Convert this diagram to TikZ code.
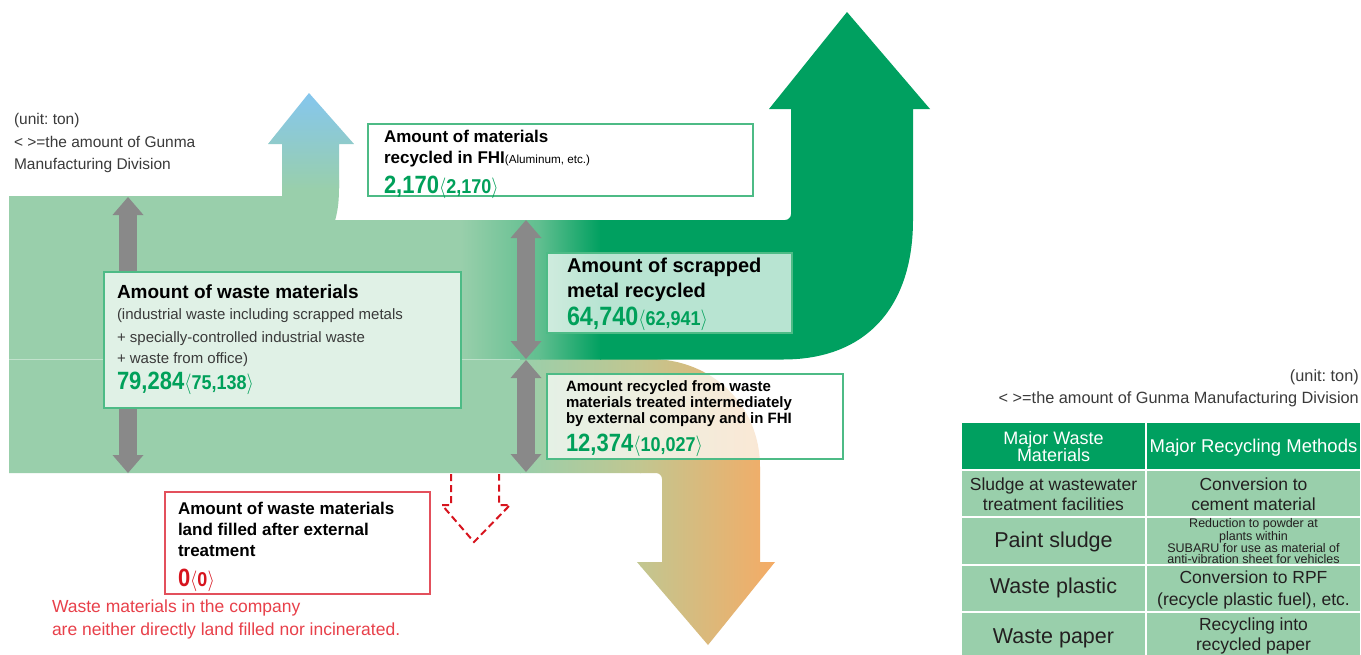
\documentclass[tikz,border=0pt]{standalone}
\usepackage{fontspec}
\usepackage{graphicx}
\setmainfont{Liberation Sans}
\usetikzlibrary{arrows.meta}
\frenchspacing

\definecolor{bandgreen}{HTML}{99CFAB}
\definecolor{midgreen}{HTML}{5FBE8F}
\definecolor{deepgreen}{HTML}{00A060}
\definecolor{skyblue}{HTML}{85C6EE}
\definecolor{tanmid}{HTML}{C2C690}
\definecolor{orangeend}{HTML}{F5AB65}
\definecolor{arrowgray}{HTML}{898989}
\definecolor{boxedge}{HTML}{4DBB86}
\definecolor{numgreen}{HTML}{00A05A}
\definecolor{redline}{HTML}{E3505C}
\definecolor{redtext}{HTML}{E8404A}
\definecolor{rednum}{HTML}{D7141E}
\definecolor{notegray}{HTML}{3A3A3A}
\definecolor{inkblack}{HTML}{231F20}
\definecolor{paleface}{HTML}{E0F1E6}

\newcommand{\fsz}[2]{\fontsize{#1}{#2}\selectfont}
% big figure followed by the Gunma figure in angle brackets
\newcommand{\amountfig}[3][25]{%
  \scalebox{0.88}[1]{\fsz{#1}{#1}\bfseries #2}%
  \scalebox{0.9}[1]{\fsz{20}{20}\bfseries$\langle$#3$\rangle$}}

\begin{document}
\begin{tikzpicture}[x=1pt, y=-1pt,
  txt/.style={anchor=base west, inner sep=0pt, outer sep=0pt},
  infobox/.style={draw=boxedge, line width=1.3pt, fill=white, fill opacity=0.72,
    draw opacity=1, anchor=north west, inner sep=0pt, outer sep=0pt},
  redbox/.style={draw=redline, line width=2.5pt, fill=white, anchor=north west,
    inner sep=0pt, outer sep=0pt},
  grayarrow/.style={draw=arrowgray, line width=18pt,
    >={Triangle[length=18pt,width=31pt,line width=0pt]}, <->},
  dashedarrow/.style={draw=rednum, line width=2pt, dash pattern=on 7pt off 4pt,
    line join=miter},
  cell/.style={draw=white, line width=2pt, anchor=north west, inner sep=0pt,
    outer sep=0pt},
  celltxt/.style={inner sep=0pt, outer sep=0pt, align=center, text=inkblack},
]
\useasboundingbox (0,0) rectangle (1361,654);
\clip (0,0) rectangle (1361,654);
\fill[white] (0,0) rectangle (1361,654);

% lower stream turning down into the orange arrow
\begin{scope}
  \clip (9,359) -- (650,359) .. controls (712,359) and (760,405) .. (760,467)
        -- (760,562) -- (775,562) -- (708,645) -- (637,562) -- (662,562)
        -- (662,479) .. controls (662,475.7) and (659.3,473) .. (656,473)
        -- (9,473) -- cycle;
  \fill[bandgreen] (0,350) rectangle (521,660);
  \shade[left color=bandgreen, right color=tanmid] (520,350) rectangle (641,660);
  \shade[left color=tanmid, right color=orangeend] (640,350) rectangle (776,660);
\end{scope}

% upper stream turning up into the green arrow
\begin{scope}
  \clip (9,196) -- (300,196) -- (300,220) -- (785,220)
        .. controls (788.3,220) and (791,217.3) .. (791,214)
        -- (791,109) -- (769,109) -- (847,12) -- (930,109) -- (913,109)
        -- (913,220) .. controls (913,305) and (868,359.5) .. (783,359.5)
        -- (9,359.5) -- cycle;
  \fill[bandgreen] (0,0) rectangle (461,370);
  \shade[left color=bandgreen, right color=midgreen] (460,0) rectangle (541,370);
  \shade[left color=midgreen, right color=deepgreen] (540,0) rectangle (601,370);
  \fill[deepgreen] (600,0) rectangle (940,370);
\end{scope}

% small blue arrow
\begin{scope}
  \clip (282,221) -- (282,144) -- (268,144) -- (309,93) -- (354,144) -- (339,144)
        -- (339,188) .. controls (339,205) and (337,213) .. (335,221) -- cycle;
  \fill[bandgreen] (260,180) rectangle (360,225);
  \shade[top color=skyblue, bottom color=bandgreen] (260,93) rectangle (360,190);
\end{scope}

\draw[white, opacity=0.4, line width=0.8pt] (9,359) -- (520,359);

% gray double arrows
\coordinate (g1t) at (128,197);
\coordinate (g1b) at (128,473);
\coordinate (g2t) at (526,220);
\coordinate (g2b) at (526,359);
\coordinate (g3t) at (526,360);
\coordinate (g3b) at (526,472);
\draw[grayarrow] (g1t) -- (g1b);
\draw[grayarrow] (g2t) -- (g2b);
\draw[grayarrow] (g3t) -- (g3b);

% notes, top left
\node[txt, text=notegray, font=\fsz{15.5}{18}] (noteA) at (14,124) {(unit: ton)};
\node[txt, text=notegray, font=\fsz{15.5}{18}] (noteB) at (14,147) {< >=the amount of Gunma};
\node[txt, text=notegray, font=\fsz{15.5}{18}] (noteC) at (14,169) {Manufacturing Division};

% recycled in FHI
\node[infobox, fill opacity=1, minimum width=385pt, minimum height=72pt] (fhibox) at (368,124) {};
\node[txt, font=\fsz{17}{20}\bfseries] (fhiA) at (384,142) {Amount of materials};
\node[txt, font=\fsz{17}{20}\bfseries] (fhiB) at (384,163)
  {recycled in FHI{\fsz{11.7}{12}\mdseries(Aluminum, etc.)}};
\node[txt, text=numgreen] (fhiN) at (384,193) {\amountfig{2,170}{2,170}};

% total waste
\node[infobox, fill=paleface, fill opacity=1, minimum width=357pt, minimum height=136pt] (wastebox) at (104,272) {};
\node[txt, font=\fsz{19}{22}\bfseries] (wasteA) at (117,298) {Amount of waste materials};
\node[txt, text=notegray, font=\fsz{15}{18}] (wasteB) at (117,319) {(industrial waste including scrapped metals};
\node[txt, text=notegray, font=\fsz{15}{18}] (wasteC) at (117,342) {+ specially-controlled industrial waste};
\node[txt, text=notegray, font=\fsz{15}{18}] (wasteD) at (117,363) {+ waste from office)};
\node[txt, text=numgreen] (wasteN) at (117,389) {\amountfig{79,284}{75,138}};

% scrapped metal
\node[infobox, minimum width=245pt, minimum height=80pt] (metalbox) at (547,253) {};
\node[txt, font=\fsz{20}{24}\bfseries] (metalA) at (567,272) {Amount of scrapped};
\node[txt, font=\fsz{20}{24}\bfseries] (metalB) at (567,297) {metal recycled};
\node[txt, text=numgreen] (metalN) at (567,325) {\amountfig[26.5]{64,740}{62,941}};

% intermediate treatment
\node[infobox, minimum width=296pt, minimum height=85pt] (midbox) at (547,374) {};
\node[txt, font=\fsz{15}{16}\bfseries] (midA) at (566,391) {Amount recycled from waste};
\node[txt, font=\fsz{15}{16}\bfseries] (midB) at (566,407) {materials treated intermediately};
\node[txt, font=\fsz{15}{16}\bfseries] (midC) at (566,423) {by external company and in FHI};
\node[txt, text=numgreen] (midN) at (566,451) {\amountfig{12,374}{10,027}};

% land fill
\coordinate (dashL) at (451,474);
\coordinate (dashR) at (499,474);
\draw[dashedarrow] (dashL) -- (451,505) -- (442,505) -- (474,542) -- (510,505)
  -- (499,505) -- (dashR);
\node[redbox, minimum width=265pt, minimum height=102pt] (fillbox) at (165,492) {};
\node[txt, font=\fsz{17}{20}\bfseries] (fillA) at (178,514) {Amount of waste materials};
\node[txt, font=\fsz{17}{20}\bfseries] (fillB) at (178,535) {land filled after external};
\node[txt, font=\fsz{17}{20}\bfseries] (fillC) at (178,556) {treatment};
\node[txt, text=rednum] (fillN) at (178,586) {\amountfig{0}{0}};
\node[txt, text=redtext, font=\fsz{17.5}{20}] (redA) at (52,612) {Waste materials in the company};
\node[txt, text=redtext, font=\fsz{17.5}{20}] (redB) at (52,635) {are neither directly land filled nor incinerated.};

% notes, right
\node[anchor=base east, inner sep=0pt, text=notegray, font=\fsz{16.3}{18}] (noteR1) at (1359,381) {(unit: ton)};
\node[anchor=base east, inner sep=0pt, text=notegray, font=\fsz{16.3}{18}] (noteR2) at (1359,403) {< >=the amount of Gunma Manufacturing Division};

% table of recycling methods
\node[cell, fill=deepgreen, minimum width=185pt, minimum height=48pt] (h1) at (961,422) {};
\node[cell, fill=deepgreen, minimum width=215pt, minimum height=48pt] (h2) at (1146,422) {};
\node[cell, fill=bandgreen, minimum width=185pt, minimum height=47pt] (r1a) at (961,470) {};
\node[cell, fill=bandgreen, minimum width=215pt, minimum height=47pt] (r1b) at (1146,470) {};
\node[cell, fill=bandgreen, minimum width=185pt, minimum height=48pt] (r2a) at (961,517) {};
\node[cell, fill=bandgreen, minimum width=215pt, minimum height=48pt] (r2b) at (1146,517) {};
\node[cell, fill=bandgreen, minimum width=185pt, minimum height=47pt] (r3a) at (961,565) {};
\node[cell, fill=bandgreen, minimum width=215pt, minimum height=47pt] (r3b) at (1146,565) {};
\node[cell, fill=bandgreen, minimum width=185pt, minimum height=48pt] (r4a) at (961,612) {};
\node[cell, fill=bandgreen, minimum width=215pt, minimum height=48pt] (r4b) at (1146,612) {};

\node[celltxt, text=white, font=\fsz{18}{17}] (h1t) at (1053.5,447) {Major Waste\\Materials};
\node[celltxt, text=white, font=\fsz{18.5}{20}, anchor=base] (h2t) at (1253.5,452) {Major Recycling Methods};
\node[celltxt, font=\fsz{17.5}{20}] (r1at) at (1053.5,494) {Sludge at wastewater\\treatment facilities};
\node[celltxt, font=\fsz{17.5}{20}] (r1bt) at (1253.5,494) {Conversion to\\cement material};
\node[celltxt, font=\fsz{21.5}{24}, anchor=base] (r2at) at (1053.5,547) {Paint sludge};
\node[celltxt, font=\fsz{12.5}{10.7}] (r2bt) at (1253.5,541) {Reduction to powder at\\plants within\\SUBARU for use as material of\\anti-vibration sheet for vehicles};
\node[celltxt, font=\fsz{21.5}{24}, anchor=base] (r3at) at (1053.5,593) {Waste plastic};
\node[celltxt, font=\fsz{17.5}{22}] (r3bt) at (1253.5,590) {Conversion to RPF\\(recycle plastic fuel), etc.};
\node[celltxt, font=\fsz{21.5}{24}, anchor=base] (r4at) at (1053.5,643) {Waste paper};
\node[celltxt, font=\fsz{17.5}{20}] (r4bt) at (1253.5,636) {Recycling into\\recycled paper};
\end{tikzpicture}
\end{document}
